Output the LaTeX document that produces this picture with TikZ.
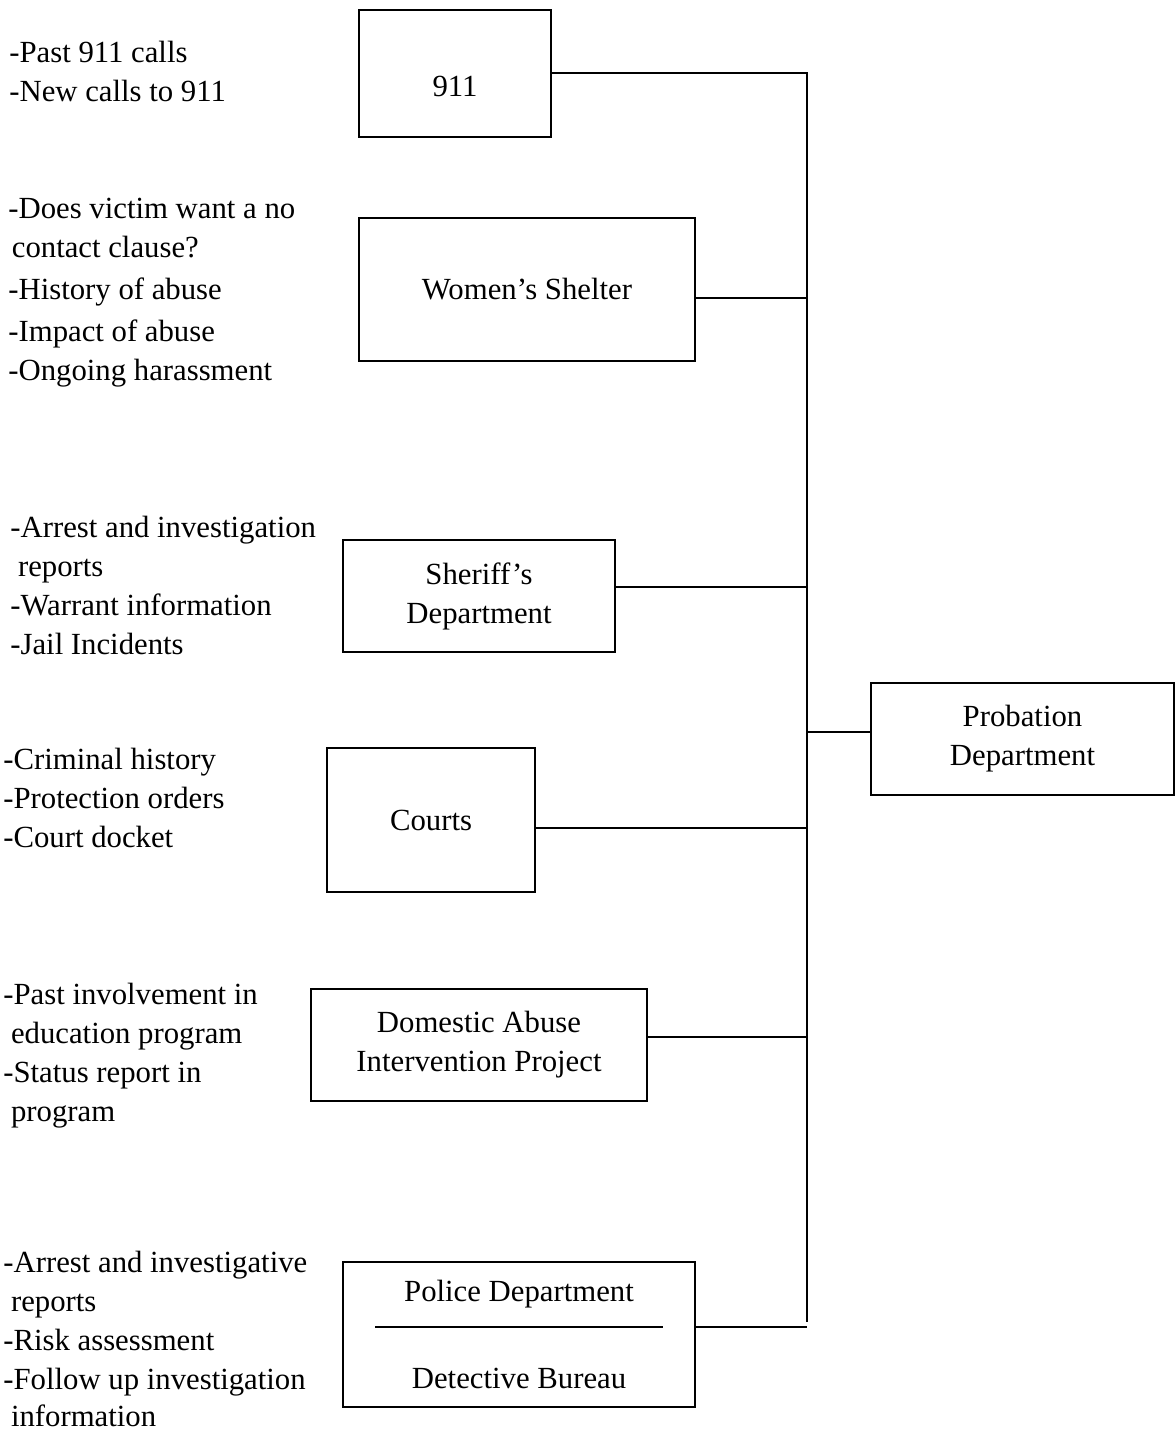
\documentclass[tikz,border=0pt]{standalone}
\usepackage{fontspec}
\setmainfont{Liberation Serif}
\begin{document}
\begin{tikzpicture}[x=0.02cm,y=-0.02cm,
    every node/.style={font=\fontsize{17.5}{22.2}\selectfont},
    agency/.style={draw,line width=1.1pt,align=center,inner sep=0pt},
    notes/.style={anchor=north west,align=left,inner sep=0pt},
    link/.style={line width=1.1pt}]
    \useasboundingbox (0,0) rectangle (1175,1435);
    % agencies
    \node[agency,minimum width=3.84cm,minimum height=2.54cm,
          label={[yshift=-0.25cm]center:911}] (nine) at (455,73.5) {};
    \node[agency,minimum width=6.72cm,minimum height=2.86cm] (shelter) at (527,289.5) {Women’s Shelter};
    \node[agency,minimum width=5.44cm,minimum height=2.24cm] (sheriff) at (479,596) {Sheriff’s\\Department};
    \node[agency,minimum width=4.16cm,minimum height=2.88cm] (courts) at (431,820) {Courts};
    \node[agency,minimum width=6.72cm,minimum height=2.24cm] (daip) at (479,1045) {Domestic Abuse\\Intervention Project};
    \node[agency,minimum width=7.04cm,minimum height=2.90cm] (police) at (519,1334.5) {};
    \node (pd) at (519,1294) {Police Department};
    \node (db) at (519,1378) {Detective Bureau};
    \draw[link] (375,1327) -- (663,1327);
    \node[agency,minimum width=6.06cm,minimum height=2.24cm] (probation) at (1022.5,739) {Probation\\Department};
    % bus line
    \coordinate (bustop) at (807,73);
    \coordinate (busend) at (807,1322);
    \draw[link] (nine.east |- bustop) -- (bustop) -- (busend);
    \draw[link] (shelter.east |- 0,298) -- (bustop |- 0,298);
    \draw[link] (sheriff.east |- 0,587) -- (bustop |- 0,587);
    \draw[link] (courts.east |- 0,828) -- (bustop |- 0,828);
    \draw[link] (daip.east |- 0,1037) -- (bustop |- 0,1037);
    \draw[link] (police.east |- 0,1327) -- (bustop |- 0,1327);
    \draw[link] (bustop |- 0,732) -- (probation.west |- 0,732);
    % notes
    \node[notes] (n911) at (9,41) {-Past 911 calls\\-New calls to 911};
    \node[notes] (nshelter) at (8,198) {-Does victim want a no\\\kern2pt contact clause?\\[0.05cm]-History of abuse\\[0.07cm]-Impact of abuse\\-Ongoing harassment};
    \node[notes] (nsheriff) at (10,516) {-Arrest and investigation\\~reports\\-Warrant information\\-Jail Incidents};
    \node[notes] (ncourts) at (3,748) {-Criminal history\\-Protection orders\\-Court docket};
    \node[notes] (ndaip) at (3,983) {-Past involvement in\\~education program\\-Status report in\\~program};
    \node[notes] (npolice) at (3,1251) {-Arrest and investigative\\~reports\\-Risk assessment\\-Follow up investigation\\[-0.04cm]~information};
\end{tikzpicture}
\end{document}
